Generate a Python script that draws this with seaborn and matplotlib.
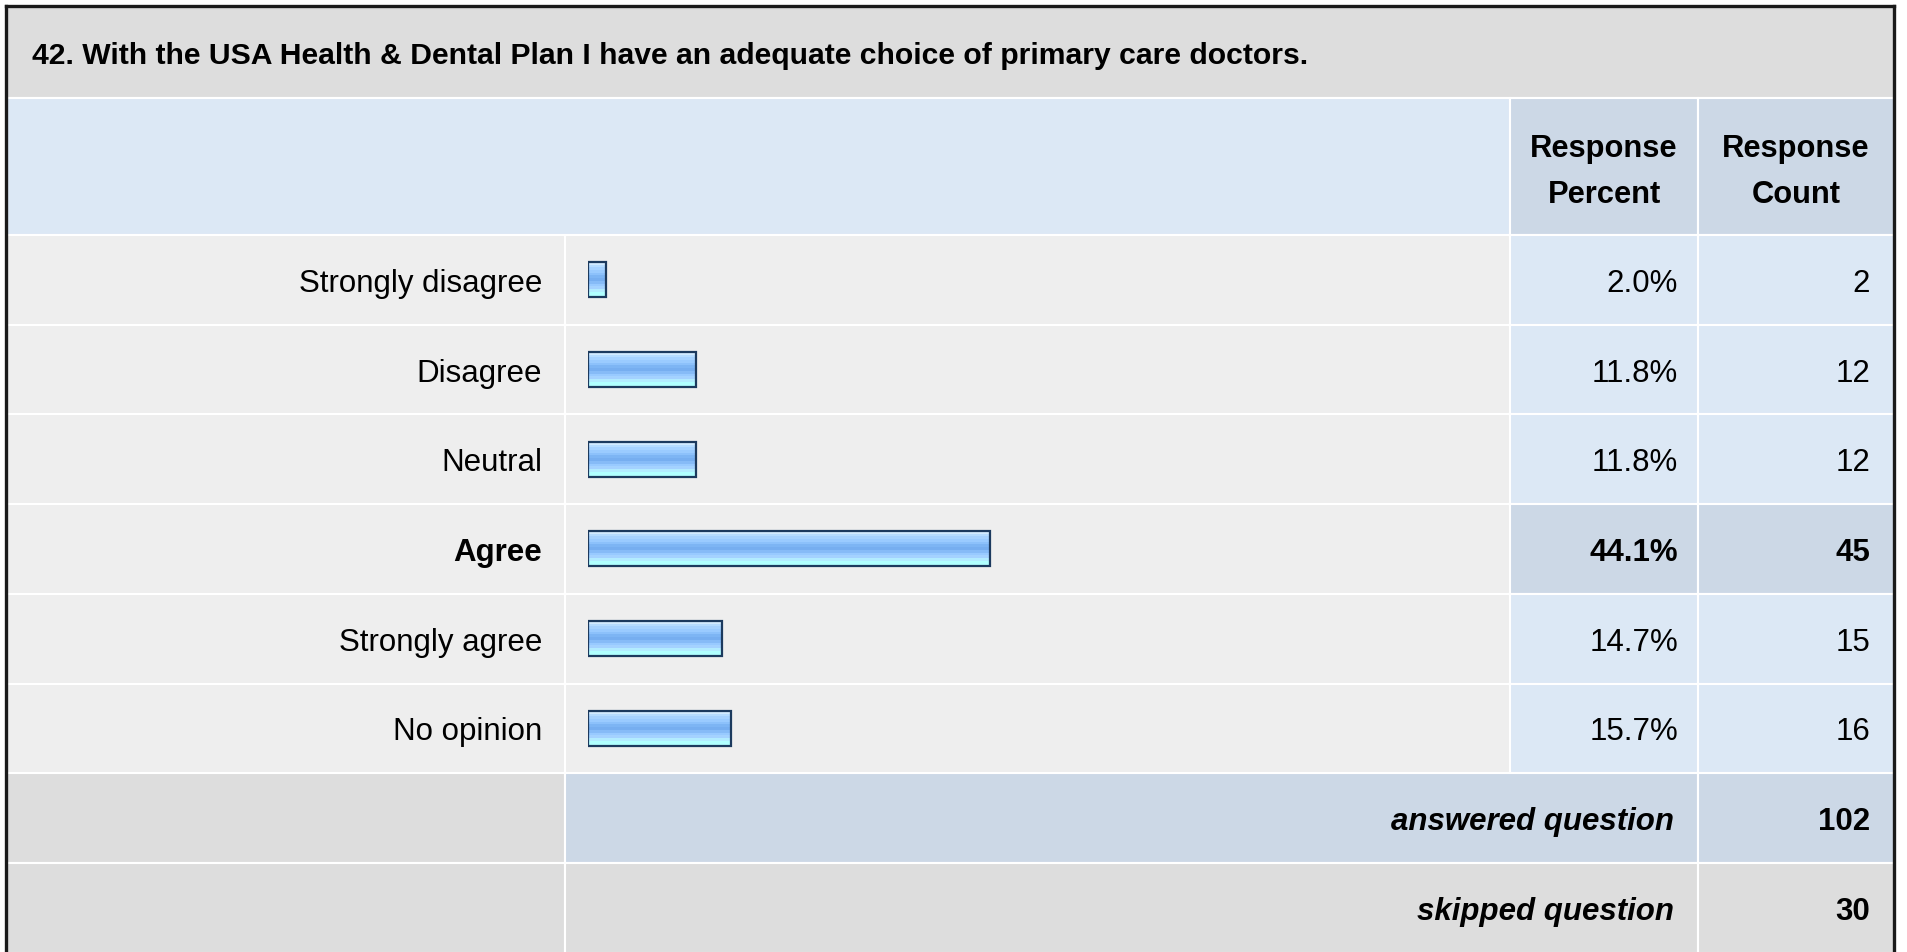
import numpy as np
import pandas as pd
import matplotlib
matplotlib.use('Agg')
import matplotlib.pyplot as plt
import matplotlib.patches as mpatches
from matplotlib.colors import to_rgb
import seaborn as sns

sns.set_theme(style='white')
plt.rcParams['font.family'] = ['Liberation Sans', 'DejaVu Sans']
plt.rcParams['text.color'] = 'black'

# ── 데이터
QUESTION = '42. With the USA Health & Dental Plan I have an adequate choice of primary care doctors.'
answers  = ['Strongly disagree', 'Disagree', 'Neutral', 'Agree', 'Strongly agree', 'No opinion']
percents = [2.0, 11.8, 11.8, 44.1, 14.7, 15.7]
counts   = [2, 12, 12, 45, 15, 16]
answered = 102
skipped  = 30

df = pd.DataFrame({'answer': answers, 'pct': percents, 'cnt': counts})
top = int(np.argmax(counts))

# ── 레이아웃 (픽셀)
W, H = 1907, 952
X_L, X_LAB, X_BAR, X_PCT, X_R = 6, 565, 1510, 1698, 1894
Y_T, Y_HEAD, Y_BODY = 6, 98, 235
ROW_H = 89.7
BAR_X0, BAR_X1 = 588, 1500

C_TITLE  = '#dddddd'
C_HEAD   = '#dce8f5'
C_HEAD2  = '#ccd8e6'
C_BODY   = '#eeeeee'
C_VAL    = '#dce8f5'
C_EDGE   = '#1c3a5e'
FS = 22.5

fig = plt.figure(figsize=(W / 100, H / 100), dpi=100)
fig.patch.set_facecolor('white')
ax = fig.add_axes([0, 0, 1, 1])
ax.set_xlim(0, W); ax.set_ylim(H, 0); ax.axis('off')

def cell(x0, y0, x1, y1, c):
    ax.add_patch(mpatches.Rectangle((x0, y0), x1 - x0, y1 - y0, facecolor=c,
                                    edgecolor='white', lw=1.5, zorder=1))

# 제목 / 헤더
cell(X_L, Y_T, X_R, Y_HEAD, C_TITLE)
cell(X_L, Y_HEAD, X_BAR, Y_BODY, C_HEAD)
cell(X_BAR, Y_HEAD, X_PCT, Y_BODY, C_HEAD2)
cell(X_PCT, Y_HEAD, X_R, Y_BODY, C_HEAD2)
ax.text(32, 64, QUESTION, fontsize=21.7, fontweight='bold',
        ha='left', va='baseline', zorder=5)
for x0, x1, l1, l2 in [(X_BAR, X_PCT, 'Response', 'Percent'), (X_PCT, X_R, 'Response', 'Count')]:
    ax.text((x0 + x1) / 2, 157, l1, fontsize=FS - 0.3, fontweight='bold',
            ha='center', va='baseline', zorder=5)
    ax.text((x0 + x1) / 2, 203, l2, fontsize=FS - 0.3, fontweight='bold',
            ha='center', va='baseline', zorder=5)

# 본문 행
for i, (a, p, n) in enumerate(zip(answers, percents, counts)):
    y0 = Y_BODY + i * ROW_H
    y1 = y0 + ROW_H
    yb = (y0 + y1) / 2 + 12
    hi = (i == top)
    cell(X_L, y0, X_LAB, y1, C_BODY)
    cell(X_LAB, y0, X_BAR, y1, C_BODY)
    cell(X_BAR, y0, X_PCT, y1, C_HEAD2 if hi else C_VAL)
    cell(X_PCT, y0, X_R, y1, C_HEAD2 if hi else C_VAL)
    fw = 'bold' if hi else 'normal'
    ax.text(X_LAB - 23, yb, a, fontsize=FS, fontweight=fw, ha='right', va='baseline', zorder=5)
    ax.text(X_PCT - 20, yb, f'{p:.1f}%', fontsize=FS, fontweight=fw, ha='right', va='baseline', zorder=5)
    ax.text(X_R - 24, yb, f'{n}', fontsize=FS, fontweight=fw, ha='right', va='baseline', zorder=5)

# answered / skipped
y0 = Y_BODY + len(answers) * ROW_H
for k, (lab, val, cm) in enumerate([('answered question', answered, C_HEAD2),
                                    ('skipped question', skipped, C_TITLE)]):
    ya = y0 + k * ROW_H
    yb = ya + ROW_H / 2 + 12
    cell(X_L, ya, X_LAB, ya + ROW_H, C_TITLE)
    cell(X_LAB, ya, X_PCT, ya + ROW_H, cm)
    cell(X_PCT, ya, X_R, ya + ROW_H, cm)
    ax.text(X_PCT - 24, yb, lab, fontsize=FS, fontweight='bold', fontstyle='italic',
            ha='right', va='baseline', zorder=5)
    ax.text(X_R - 24, yb, f'{val}', fontsize=FS, fontweight='bold',
            ha='right', va='baseline', zorder=5)

# 외곽선
for xs, ys in [([X_L, X_L], [H, Y_T]), ([X_L, X_R], [Y_T, Y_T]), ([X_R, X_R], [Y_T, H])]:
    ax.plot(xs, ys, color='#1a1a1a', lw=2.4, zorder=6, solid_capstyle='projecting')

# ── 막대 (seaborn)
n_rows = len(answers)
ax_b = fig.add_axes([BAR_X0 / W, 1 - (Y_BODY + n_rows * ROW_H) / H,
                     (BAR_X1 - BAR_X0) / W, n_rows * ROW_H / H])
ax_b.patch.set_alpha(0)
sns.barplot(data=df, x='pct', y='answer', orient='h', ax=ax_b, width=0.39,
            color='#98caff', edgecolor=C_EDGE, linewidth=1.6)

stripes = ['#d2ebff', '#b6dcff', '#a6d2ff', '#9acbff', '#8cc1fb', '#7db5f4',
           '#76aef0', '#86bbf7', '#98caff', '#a4d2ff', '#b2ecff', '#b0ffff', '#b0ffff']
grad = np.array([to_rgb(c) for c in stripes])[:, None, :]
for bar in ax_b.patches:
    bx, by = bar.get_x(), bar.get_y()
    bw, bh = bar.get_width(), bar.get_height()
    bar.set_facecolor('none'); bar.set_zorder(3)
    ax_b.imshow(grad, extent=(bx, bx + bw, by + bh, by), aspect='auto',
                interpolation='nearest', origin='upper', zorder=2)
ax_b.set_xlim(0, 100)
ax_b.set_ylim(n_rows - 0.5, -0.5)
ax_b.axis('off')

plt.savefig('out.png', dpi=100)
plt.close()
